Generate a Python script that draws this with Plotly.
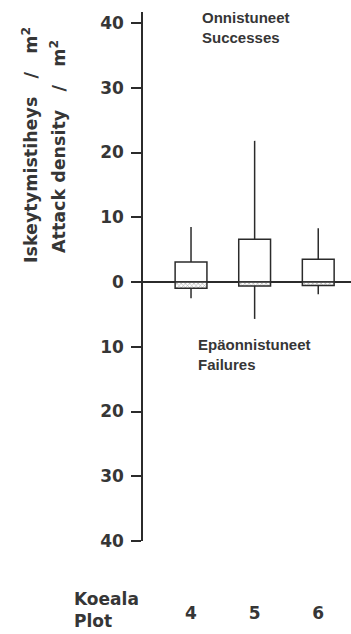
import plotly.graph_objects as go

# Attack density per plot: successful attacks above the zero line, failures below
plots = ["4", "5", "6"]
success_box = [3.1, 6.6, 3.5]
success_max = [8.5, 21.8, 8.3]
failure_box = [0.95, 0.6, 0.55]
failure_max = [2.5, 5.7, 1.9]

y_ticks = [-40, -30, -20, -10, 0, 10, 20, 30, 40]
y_tick_text = [str(abs(v)) for v in y_ticks]

INK = "#2b2b2b"
TXT = "#363636"
BIG = dict(family="DejaVu Sans", size=17, color=TXT, weight="bold")
TITLE = dict(family="DejaVu Sans", size=17.5, color=TXT, weight="bold")
SMALL = dict(family="Liberation Sans", size=15, color=TXT, weight="bold")

W, H = 351, 634
L, R, T, B = 143, 0, 12, 93
PW, PH = W - L - R, H - T - B


def px_x(px):
    return (px - L) / PW


def px_y(py):
    return (H - B - py) / PH


pos = list(range(len(plots)))

fig = go.Figure()
fig.add_bar(
    x=pos, y=success_box, width=0.5,
    marker=dict(color="white", line=dict(color=INK, width=1.5)),
    error_y=dict(type="data", symmetric=False,
                 array=[m - b for m, b in zip(success_max, success_box)],
                 arrayminus=[0] * len(pos), width=0, thickness=1.5, color=INK),
)
fig.add_bar(
    x=pos, y=[-v for v in failure_box], width=0.5,
    marker=dict(color="white", line=dict(color=INK, width=1.5),
                pattern=dict(shape="x", size=3, solidity=0.35,
                             fgcolor="#555555", bgcolor="white")),
    error_y=dict(type="data", symmetric=False,
                 array=[0] * len(pos),
                 arrayminus=[m - b for m, b in zip(failure_max, failure_box)],
                 width=0, thickness=1.5, color=INK),
)

gap = "\u00a0" * 3
annotations = [
    dict(text="Onnistuneet<br>Successes", x=px_x(200), y=px_y(27),
         xanchor="left", yanchor="middle", align="left", font=SMALL),
    dict(text="Epäonnistuneet<br>Failures", x=px_x(196), y=px_y(354),
         xanchor="left", yanchor="middle", align="left", font=SMALL),
    dict(text=f"Iskeytymistiheys{gap}/{gap}m<sup>2</sup>", x=px_x(30), y=px_y(145),
         textangle=-90, xanchor="center", yanchor="middle", font=TITLE),
    dict(text=f"Attack\u00a0density{gap}/{gap}m<sup>2</sup>", x=px_x(58), y=px_y(147),
         textangle=-90, xanchor="center", yanchor="middle", font=TITLE),
    dict(text="Koeala<br>Plot", x=px_x(72), y=px_y(610),
         xanchor="left", yanchor="middle", align="left", font=BIG),
]
for a in annotations:
    a.update(xref="paper", yref="paper", showarrow=False)

fig.update_layout(
    width=W, height=H,
    margin=dict(l=L, r=R, t=T, b=B, pad=0),
    paper_bgcolor="white", plot_bgcolor="white",
    barmode="overlay", showlegend=False,
    annotations=annotations,
    xaxis=dict(range=[-0.755, 2.515], tickvals=pos, ticktext=plots,
               showline=False, ticks="", showgrid=False, zeroline=False,
               tickfont=BIG, ticklabelstandoff=60, fixedrange=True),
    yaxis=dict(range=[-40, 41.7], tickvals=y_ticks, ticktext=y_tick_text,
               showline=True, linecolor=INK, linewidth=1.5,
               ticks="outside", ticklen=10, tickwidth=1.5, tickcolor=INK,
               showgrid=False, zeroline=True, zerolinecolor=INK, zerolinewidth=1.5,
               tickfont=BIG, ticklabelstandoff=4, fixedrange=True),
)

fig.write_html("out.html")
